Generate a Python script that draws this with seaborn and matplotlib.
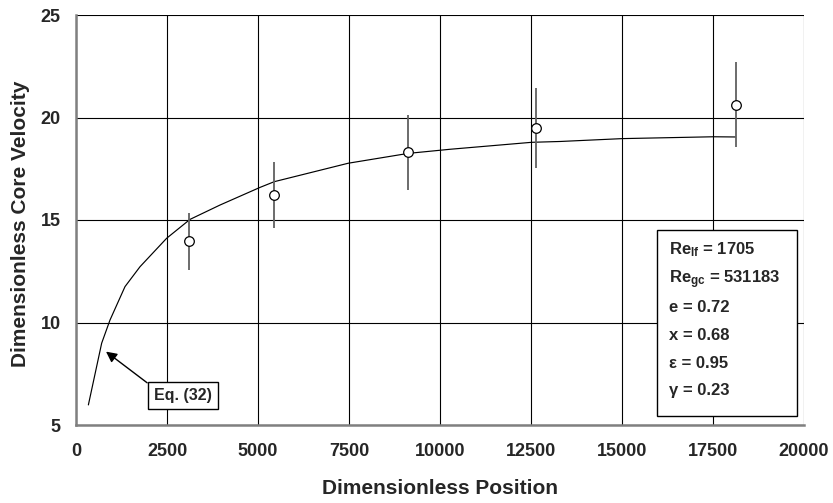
import matplotlib
matplotlib.use("Agg")
import matplotlib.pyplot as plt
import seaborn as sns
import numpy as np

# ---- data ----
pos_x = [3104, 5448, 9112, 12637, 18122]
vel_y = [13.96, 16.20, 18.30, 19.50, 20.61]
err_lo = [12.56, 14.60, 16.46, 17.56, 18.58]
err_hi = [15.33, 17.84, 20.12, 21.46, 22.72]

curve_x = [340, 705, 934, 1346, 1758, 2491, 3132, 3956, 5055, 5448, 7481, 9129, 10275, 12519, 13297, 15009, 17509, 18120]
curve_y = [5.98, 8.99, 10.12, 11.75, 12.72, 14.11, 15.03, 15.73, 16.59, 16.87, 17.77, 18.25, 18.45, 18.79, 18.83, 18.97, 19.06, 19.05]

x_ticks = [0, 2500, 5000, 7500, 10000, 12500, 15000, 17500, 20000]
y_ticks = [5, 10, 15, 20, 25]

params = [r"$\mathbf{Re_{lf}}$ = 1705", r"$\mathbf{Re_{gc}}$ = 531183", "e = 0.72",
          "x = 0.68", "ε = 0.95", "γ = 0.23"]

sns.set_style("white")
plt.rcParams["font.family"] = ["Liberation Sans", "DejaVu Sans"]
plt.rcParams["mathtext.fontset"] = "custom"
plt.rcParams["mathtext.rm"] = "Liberation Sans"
plt.rcParams["mathtext.bf"] = "Liberation Sans:bold"
plt.rcParams["mathtext.it"] = "Liberation Sans:italic"

W, H = 833, 503
fig = plt.figure(figsize=(W / 100, H / 100), dpi=100)
ax = fig.add_axes([76 / W, 78 / H, 728 / W, 410 / H])

ax.set_xlim(0, 20000)
ax.set_ylim(5, 25)
ax.set_xticks(x_ticks)
ax.set_yticks(y_ticks)
ax.grid(True, color="black", lw=0.8)
ax.set_axisbelow(True)

sns.lineplot(x=curve_x, y=curve_y, ax=ax, color="black", lw=0.85, sort=False, estimator=None)

yerr = [np.array(vel_y) - np.array(err_lo), np.array(err_hi) - np.array(vel_y)]
ax.errorbar(pos_x, vel_y, yerr=yerr, fmt="none", ecolor="#606060", elinewidth=1.3, capsize=0, zorder=3)
sns.scatterplot(x=pos_x, y=vel_y, ax=ax, s=48, facecolor="white", edgecolor="black", linewidth=0.9, zorder=4)

for s in ["top", "right"]:
    ax.spines[s].set_visible(False)
for s in ["left", "bottom"]:
    ax.spines[s].set_color("#808080")
    ax.spines[s].set_linewidth(1.8)
ax.tick_params(axis="both", direction="out", length=5, width=1, color="#808080",
               labelsize=13, pad=6)
ax.tick_params(axis="x", pad=8)
for lab in ax.get_xticklabels() + ax.get_yticklabels():
    lab.set_fontweight("bold")

ax.set_xlabel("Dimensionless Position", fontsize=15, fontweight="bold", va="center")
ax.set_ylabel("Dimensionless Core Velocity", fontsize=15, fontweight="bold", va="center")
ax.xaxis.set_label_coords(0.5, (H - 488 - 78) / 410)
ax.yaxis.set_label_coords((21 - 76) / 728, (H - 224 - 78) / 410)

# parameter box
from matplotlib.patches import Rectangle
box = Rectangle((657 / W, (H - 416) / H), 140 / W, 186 / H, transform=fig.transFigure,
                facecolor="white", edgecolor="black", lw=1.0, zorder=5)
fig.patches.append(box)
baselines = [254, 283, 311.5, 339.5, 368, 395.5]
for t, yy in zip(params, baselines):
    fig.text(669 / W, (H - yy) / H, t, fontsize=12, fontweight="bold",
             va="baseline", ha="left", zorder=6)

ax.annotate("Eq. (32)", xy=(824, 8.58), xytext=(2930, 6.45), fontsize=11.5, fontweight="bold",
            ha="center", va="center",
            bbox=dict(boxstyle="square,pad=0.38", fc="white", ec="black", lw=1.0),
            arrowprops=dict(arrowstyle="-|>", color="black", lw=1.0, mutation_scale=16,
                            shrinkA=0, shrinkB=0, relpos=(0, 1)),
            zorder=6)

fig.savefig("out.png", dpi=100)
